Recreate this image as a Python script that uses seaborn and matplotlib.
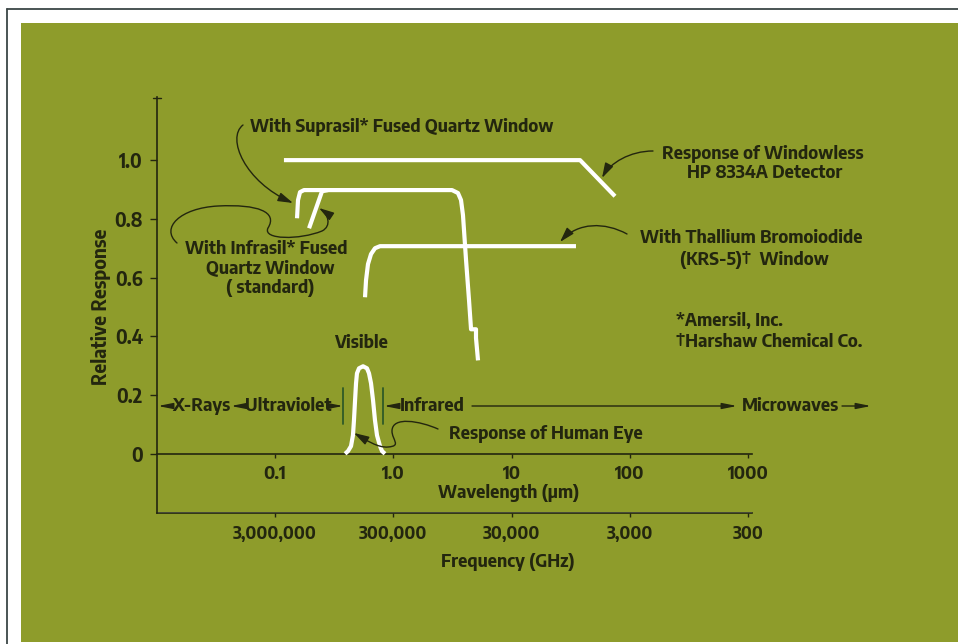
import numpy as np
import pandas as pd
import seaborn as sns
import matplotlib
matplotlib.use("Agg")
import matplotlib.pyplot as plt
import matplotlib.transforms as mtransforms
from matplotlib.patches import Rectangle, FancyArrowPatch
from matplotlib.lines import Line2D
from matplotlib.path import Path
from matplotlib.ticker import NullLocator

# ---------------- data (wavelength in µm, relative response) ----------------
windowless_lam = [0.119, 37.9, 74.8]
windowless_resp = [1.0, 1.0, 0.877]

suprasil_lam = [0.1535, 0.1565, 0.1627, 0.1758, 3.135, 3.52, 3.735, 3.88, 4.12, 4.365, 4.54, 5.0, 5.0, 5.2]
suprasil_resp = [0.802, 0.864, 0.891, 0.898, 0.898, 0.888, 0.864, 0.813, 0.659, 0.523, 0.424, 0.424, 0.394, 0.318]

infrasil_lam = [0.194, 0.2497, 0.2805]
infrasil_resp = [0.768, 0.894, 0.898]

krs5_lam = [0.5766, 0.588, 0.611, 0.648, 0.7004, 0.772, 35.0]
krs5_resp = [0.533, 0.591, 0.646, 0.680, 0.700, 0.707, 0.707]

eye_lam = [0.391, 0.414, 0.439, 0.456, 0.465, 0.475, 0.484, 0.493, 0.513, 0.555,
           0.599, 0.623, 0.648, 0.674, 0.700, 0.728, 0.772, 0.803, 0.850]
eye_resp = [0.0, 0.009, 0.026, 0.063, 0.114, 0.182, 0.24, 0.274, 0.291, 0.298,
            0.291, 0.274, 0.24, 0.182, 0.114, 0.063, 0.026, 0.009, 0.0]

y_ticks = [0, 0.2, 0.4, 0.6, 0.8, 1.0]
y_tick_labels = ["0", "0.2", "0.4", "0.6", "0.8", "1.0"]
wl_ticks = [0.1, 1, 10, 100, 1000]
wl_tick_labels = ["0.1", "1.0", "10", "100", "1000"]
freq_ticks = [3e6, 3e5, 3e4, 3e3, 300]
freq_tick_labels = ["3,000,000", "300,000", "30,000", "3,000", "300"]

# ---------------- style ----------------
GREEN = "#8e9c2b"
DARK = "#23260f"
BAR = "#2f5a27"

sns.set_theme(style="white")
plt.rcParams["font.family"] = ["Encode Sans Semi Condensed", "DejaVu Sans"]
plt.rcParams["font.weight"] = "bold"

W, H = 958, 644
fig = plt.figure(figsize=(W / 100, H / 100), dpi=100, facecolor="white")
px = mtransforms.Affine2D().scale(1 / W, -1 / H).translate(0, 1) + fig.transFigure

fig.add_artist(Rectangle((21, 23), W - 21, 642 - 23, transform=px,
                         facecolor=GREEN, edgecolor="none", zorder=-5))
fig.add_artist(Line2D([7, W], [9, 9], transform=px, color="#3c4646", lw=1.3, zorder=-4))
fig.add_artist(Line2D([7, 7], [9, H], transform=px, color="#3c4646", lw=1.3, zorder=-4))

ax = fig.add_axes([156.7 / W, 1 - 512.5 / H, (751.7 - 156.7) / W, (512.5 - 97) / H])
ax.patch.set_alpha(0)
ax.set_xscale("log")
ax.set_xlim(0.01, 1070)
ax.set_ylim(-0.2, 1.215)

curves = [
    (windowless_lam, windowless_resp),
    (suprasil_lam, suprasil_resp),
    (infrasil_lam, infrasil_resp),
    (krs5_lam, krs5_resp),
    (eye_lam, eye_resp),
]
for lam, resp in curves:
    df = pd.DataFrame({"lam": lam, "resp": resp})
    sns.lineplot(data=df, x="lam", y="resp", ax=ax, color="white", lw=3.0,
                 sort=False, estimator=None, solid_capstyle="butt",
                 solid_joinstyle="round", zorder=3)

ax.set_xlabel("")
ax.set_ylabel("")
for s in ["top", "right"]:
    ax.spines[s].set_visible(False)
ax.spines["bottom"].set_position(("data", 0))
for s in ["left", "bottom"]:
    ax.spines[s].set_color(DARK)
    ax.spines[s].set_linewidth(1.2)

TS = 12.5
ax.set_xticks(wl_ticks, labels=wl_tick_labels)
ax.xaxis.set_minor_locator(NullLocator())
ax.set_yticks(y_ticks, labels=y_tick_labels)
ax.tick_params(axis="x", bottom=True, direction="out", length=3, width=1, color=DARK,
               pad=5, labelsize=13, labelcolor=DARK)
ax.tick_params(axis="y", left=True, direction="out", length=5, width=1, color=DARK,
               pad=5, labelsize=13.5, labelcolor=DARK)


def l2f(x):
    x = np.asarray(x, dtype=float)
    with np.errstate(divide="ignore"):
        return 3e5 / x


sec = ax.secondary_xaxis(0.0, functions=(l2f, l2f))
sec.set_xticks(freq_ticks, labels=freq_tick_labels)
sec.xaxis.set_minor_locator(NullLocator())
sec.tick_params(axis="x", bottom=True, direction="out", length=3, width=1, color=DARK,
                pad=6, labelsize=TS, labelcolor=DARK)
for s in sec.spines.values():
    s.set_color(DARK)
    s.set_linewidth(1.2)

FS = 13


def txt(x, y, s, ha="center", size=FS):
    fig.text(x, y, s, transform=px, ha=ha, va="center", fontsize=size,
             color=DARK, fontweight="bold")


fig.text(101, 307, "Relative Response", transform=px, ha="center", va="center",
         rotation=90, fontsize=13.8, color=DARK, fontweight="bold")
txt(509, 493, "Wavelength (µm)")
txt(508, 562, "Frequency (GHz)")

txt(250, 127, "With Suprasil* Fused Quartz Window", ha="left")
txt(763, 154, "Response of Windowless")
txt(765, 173, "HP 8334A Detector")
txt(751, 238, "With Thallium Bromoiodide")
txt(754, 260, "(KRS-5)†  Window")
txt(676, 321, "*Amersil, Inc.", ha="left")
txt(676, 342, "†Harshaw Chemical Co.", ha="left")
txt(266, 249, "With Infrasil* Fused")
txt(270, 268, "Quartz Window")
txt(270, 288, "( standard)")
txt(361, 343, "Visible")
txt(201, 406, "X-Rays")
txt(288, 406, "Ultraviolet")
txt(400, 406, "Infrared", ha="left")
txt(791, 406, "Microwaves")
txt(449, 434, "Response of Human Eye", ha="left")

# region boundary bars
for bx in (343, 383):
    fig.add_artist(Line2D([bx, bx], [388, 424], transform=px, color=BAR, lw=1.3))

# small cross tick at the top of the response axis
fig.add_artist(Line2D([153, 161], [98, 98], transform=px, color=DARK, lw=1.0))

band_style = "-|>,head_length=1.1,head_width=0.22"


def arrow(p0, p1, style=band_style, ms=8):
    fig.add_artist(FancyArrowPatch(p0, p1, transform=px, arrowstyle=style,
                                   mutation_scale=ms, shrinkA=0, shrinkB=0,
                                   color=DARK, lw=1.0))


arrow((171, 406), (158, 406))
arrow((245, 406), (231, 406))
arrow((331, 406), (343, 406))
arrow((397, 406), (384, 406))
arrow((472, 406), (737, 406))
arrow((842, 406), (871, 406))

curve_style = "-|>,head_length=1.0,head_width=0.3"


def curve_arrow(pts):
    codes = [Path.MOVETO] + [Path.CURVE4] * (len(pts) - 1)
    fig.add_artist(FancyArrowPatch(path=Path(pts, codes), transform=px,
                                   arrowstyle=curve_style, mutation_scale=9,
                                   color=DARK, lw=1.0))


# Suprasil
curve_arrow([(243, 125), (226, 138), (245, 182), (293, 203)])
# Infrasil
curve_arrow([(177, 243), (160, 228), (180, 208), (218, 206),
             (258, 204), (278, 212), (268, 228),
             (262, 240), (300, 240), (322, 231),
             (332, 226), (328, 214), (319, 208)])
# Windowless
curve_arrow([(653, 151), (630, 151), (610, 163), (602, 178)])
# Thallium
curve_arrow([(627, 234), (605, 222), (578, 222), (560, 242)])
# Human eye
curve_arrow([(438, 429), (420, 421), (392, 416), (392, 431),
             (392, 440), (402, 446), (388, 447),
             (378, 448), (366, 440), (354, 433)])

fig.savefig("out.png", dpi=100, facecolor="white")
